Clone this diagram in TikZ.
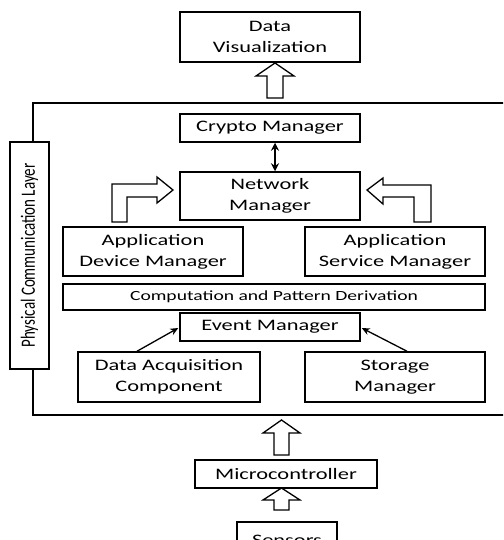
\documentclass[tikz,border=0pt]{standalone}
\usepackage{fontspec}
\setmainfont{Carlito}
\newfontfamily\widefont[FakeStretch=1.4]{Carlito}
\usetikzlibrary{arrows.meta,calc}
\begin{document}
\begin{tikzpicture}[x=1pt,y=-1pt,
  box/.style={draw, line width=1.5pt, inner sep=0pt, align=center,
    font=\widefont\fontsize{16}{21}\selectfont},
  blk/.style={draw, line width=1.3pt, line join=miter, fill=white},
  conn/.style={line width=1.3pt, -{Stealth[length=8pt,width=7pt]}},
  frame/.style={line width=1.5pt}]
\useasboundingbox (0,0) rectangle (503,540);
\clip (0,0) rectangle (503,540);
% boxes
\node[box, minimum width=180, minimum height=50] (dv) at (270,37) {Data\\Visualization};
\node[box, minimum width=180, minimum height=28] (crypto) at (270,128) {Crypto Manager};
\node[box, minimum width=180, minimum height=48] (net) at (270,196) {Network\\Manager};
\node[box, minimum width=180, minimum height=49] (adm) at (153,251.5) {Application\\Device Manager};
\node[box, minimum width=180, minimum height=49] (asm) at (395,251.5) {Application\\Service Manager};
\node[box, minimum width=422, minimum height=26, font=\widefont\fontsize{14}{16}\selectfont] (comp) at (274,297) {Computation and Pattern Derivation};
\node[box, minimum width=180, minimum height=28] (event) at (270,327) {Event Manager};
\node[box, minimum width=182, minimum height=50] (dac) at (169,377) {Data Acquisition\\Component};
\node[box, minimum width=180, minimum height=50] (sm) at (395,377) {Storage\\Manager};
\node[box, minimum width=182, minimum height=28] (micro) at (286,474) {Microcontroller};
\node[box, minimum width=100, minimum height=36] (sens) at (287,540) {Sensors};
\node[box, rotate=90, minimum width=227, minimum height=39, font=\fontsize{15}{18}\selectfont] (phys) at (29.5,255.5) {\scalebox{1}[1.35]{Physical Communication Layer}};
% frame (open to the right)
\draw[frame] (520,103) -- (33,103) -- (33,142);
\draw[frame] (33,369) -- (33,415) -- (520,415);
% block arrows
\draw[blk] (275,63) -- (294,76) -- (283,76) -- (283,98) -- (267,98) -- (267,76) -- (256,76) -- cycle;
\draw[blk] (281.5,420) -- (300,433) -- (289,433) -- (289,455) -- (274,455) -- (274,433) -- (263,433) -- cycle;
\draw[blk] (281.5,488) -- (300,500) -- (289,500) -- (289,510) -- (274,510) -- (274,500) -- (263,500) -- cycle;
\draw[blk] (112,222) -- (112,184) -- (157,184) -- (157,177) -- (173,190) -- (157,203) -- (157,197) -- (127,197) -- (127,222) -- cycle;
\draw[blk] (431,222) -- (431,185) -- (383,185) -- (383,178) -- (367,190) -- (383,204) -- (383,197) -- (414,197) -- (414,222) -- cycle;
% connectors
\draw[line width=1.3pt, {Stealth[length=8pt,width=8pt]}-{Stealth[length=8pt,width=8pt]}] ($(crypto.south)+(5,0)$) -- ($(net.north)+(5,0)$);
\draw[conn] ($(dac.north)+(-32,0)$) -- ($(event.west)+(-1,1)$);
\draw[conn] ($(sm.north)+(12,0)$) -- ($(event.east)+(1,1)$);
\end{tikzpicture}
\end{document}
